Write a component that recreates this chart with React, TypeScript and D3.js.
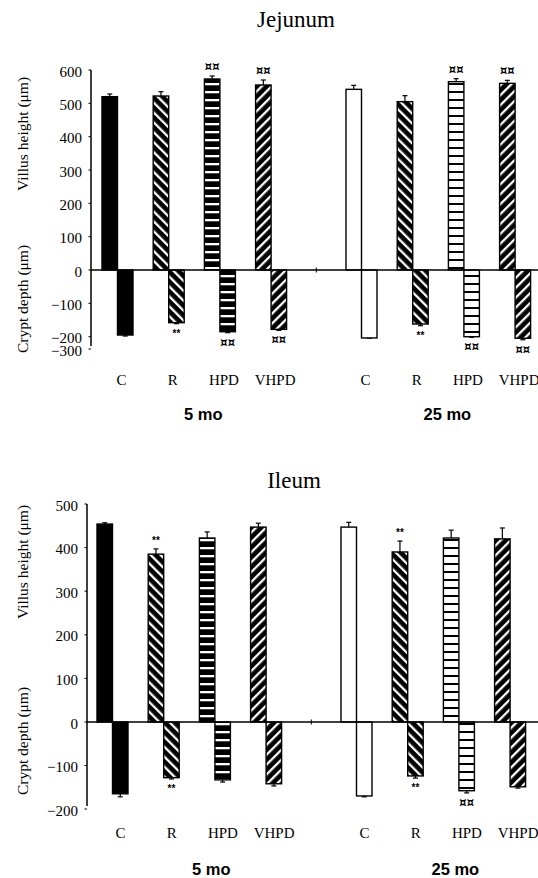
import * as d3 from "d3";

const treatments = ["C", "R", "HPD", "VHPD"];
const ages = ["5 mo", "25 mo"];
const measures = ["villus", "crypt"];

const jejTicks = [600, 500, 400, 300, 200, 100, 0, -100, -200, -300];
const ileTicks = [500, 400, 300, 200, 100, 0, -100, -200];

// Jejunum, villus height (positive) and crypt depth (negative), mean and error
const jejVillus5 = [520, 522, 573, 555];
const jejVillus5Err = [8, 13, 9, 15];
const jejVillus25 = [542, 505, 565, 560];
const jejVillus25Err = [12, 18, 9, 9];
const jejCrypt5 = [-195, -158, -185, -178];
const jejCrypt5Err = [3, 3, 3, 3];
const jejCrypt25 = [-210, -162, -200, -213];
const jejCrypt25Err = [2, 5, 5, 12];

const jejVillus5Sig = ["", "", "¤¤", "¤¤"];
const jejVillus25Sig = ["", "", "¤¤", "¤¤"];
const jejCrypt5Sig = ["", "**", "¤¤", "¤¤"];
const jejCrypt25Sig = ["", "**", "¤¤", "¤¤"];

// Ileum
const ileVillus5 = [454, 385, 422, 447];
const ileVillus5Err = [3, 12, 14, 9];
const ileVillus25 = [447, 390, 422, 420];
const ileVillus25Err = [11, 25, 18, 25];
const ileCrypt5 = [-165, -128, -133, -142];
const ileCrypt5Err = [7, 3, 5, 5];
const ileCrypt25 = [-170, -124, -158, -149];
const ileCrypt25Err = [2, 5, 5, 3];

const ileVillus5Sig = ["", "**", "", ""];
const ileVillus25Sig = ["", "**", "", ""];
const ileCrypt5Sig = ["", "**", "", ""];
const ileCrypt25Sig = ["", "**", "¤¤", ""];

const fills: Record<string, string[]> = {
  "5 mo": ["#000", "url(#diagDown)", "url(#horizDark)", "url(#diagUp)"],
  "25 mo": ["#fff", "url(#diagDown)", "url(#horizLight)", "url(#diagUp)"],
};

const serif = "'Liberation Serif', 'Times New Roman', serif";
const sans = "'Liberation Sans', Arial, sans-serif";

const buildRows = (
  v5: number[], v5e: number[], v5s: string[],
  v25: number[], v25e: number[], v25s: string[],
  c5: number[], c5e: number[], c5s: string[],
  c25: number[], c25e: number[], c25s: string[]
) => {
  const rows: any[] = [];
  treatments.forEach((t, i) => {
    rows.push({ age: "5 mo", t, i, m: "villus", v: v5[i], e: v5e[i], s: v5s[i] });
    rows.push({ age: "5 mo", t, i, m: "crypt", v: c5[i], e: c5e[i], s: c5s[i] });
    rows.push({ age: "25 mo", t, i, m: "villus", v: v25[i], e: v25e[i], s: v25s[i] });
    rows.push({ age: "25 mo", t, i, m: "crypt", v: c25[i], e: c25e[i], s: c25s[i] });
  });
  return rows;
};

const jejRows = buildRows(
  jejVillus5, jejVillus5Err, jejVillus5Sig,
  jejVillus25, jejVillus25Err, jejVillus25Sig,
  jejCrypt5, jejCrypt5Err, jejCrypt5Sig,
  jejCrypt25, jejCrypt25Err, jejCrypt25Sig
);
const ileRows = buildRows(
  ileVillus5, ileVillus5Err, ileVillus5Sig,
  ileVillus25, ileVillus25Err, ileVillus25Sig,
  ileCrypt5, ileCrypt5Err, ileCrypt5Sig,
  ileCrypt25, ileCrypt25Err, ileCrypt25Sig
);

const jejLayout = {
  title: "Jejunum", titleX: 296, titleY: 27,
  axisX: 91, yDomain: [-300, -200, 0, 600], yRange: [349, 336.7, 270, 70],
  ticks: jejTicks, xStart: 102, catY: 385, ageY: 420, catShift: 4, ageShift: 9,
  villusLabelY: 134, cryptLabelY: 299,
};
const ileLayout = {
  title: "Ileum", titleX: 294, titleY: 488,
  axisX: 87, yDomain: [-200, 0, 500], yRange: [809, 722, 504],
  ticks: ileTicks, xStart: 97, catY: 838, ageY: 875, catShift: 8, ageShift: 22,
  villusLabelY: 562, cryptLabelY: 741,
};

const groupStep = 244;
const groupWidth = 184.6;
const pairWidth = 31;
const treatStep = 51.2;

const Panel = ({ layout, rows }: { layout: any; rows: any[] }) => {
  const y = d3.scaleLinear().domain(layout.yDomain).range(layout.yRange);
  const ageX = d3
    .scaleBand()
    .domain(ages)
    .range([layout.xStart, layout.xStart + groupStep + groupWidth])
    .paddingInner(1 - groupWidth / groupStep);
  const treatX = d3
    .scaleBand()
    .domain(treatments)
    .range([0, groupWidth])
    .paddingInner(1 - pairWidth / treatStep);
  const mX = d3.scaleBand().domain(measures).range([0, pairWidth]);

  const y0 = y(0);
  const yTop = y(d3.max(layout.ticks as number[])!);
  const yBot = y(d3.min(layout.ticks as number[])!) - 3;
  const midX =
    ((ageX("5 mo") as number) + groupWidth + (ageX("25 mo") as number)) / 2;

  return (
    <g>
      <text x={layout.titleX} y={layout.titleY} textAnchor="middle"
        fontFamily={serif} fontSize={23}>{layout.title}</text>

      {/* axis titles */}
      <text transform={`translate(28,${layout.villusLabelY}) rotate(-90)`}
        textAnchor="middle" fontFamily={serif} fontSize={15.5}>Villus height (μm)</text>
      <text transform={`translate(28,${layout.cryptLabelY}) rotate(-90)`}
        textAnchor="middle" fontFamily={serif} fontSize={15.5}>Crypt depth (μm)</text>

      {/* bars */}
      {rows.map((d, k) => {
        const x = (ageX(d.age) as number) + (treatX(d.t) as number) + (mX(d.m) as number);
        const w = mX.bandwidth();
        const yv = y(d.v);
        const end = d.m === "villus" ? d.v + d.e : d.v - d.e;
        const ye = y(end);
        const cx = x + w / 2;
        const star = d.s === "**";
        return (
          <g key={k}>
            <line x1={cx} x2={cx} y1={yv} y2={ye} stroke="#000" strokeWidth={1.2} />
            <line x1={cx - 2.5} x2={cx + 2.5} y1={ye} y2={ye} stroke="#000" strokeWidth={1.2} />
            <rect x={x} y={Math.min(yv, y0)} width={w} height={Math.abs(y0 - yv)}
              fill={fills[d.age][d.i]} stroke="#000" strokeWidth={1.4} />
            {d.s && (
              <text x={cx} y={d.m === "villus" ? ye - 5 : ye + (star ? 13 : 14)}
                textAnchor="middle"
                fontFamily={star ? sans : "'DejaVu Sans', sans-serif"}
                fontWeight="bold"
                fill="#000"
                fontSize={star ? 10 : 11.5}>{d.s}</text>
            )}
          </g>
        );
      })}

      {/* zero line and empty middle slot */}
      <line x1={layout.axisX} x2={560} y1={y0} y2={y0} stroke="#000" strokeWidth={1.3} />
      <line x1={midX} x2={midX} y1={y0 - 2.5} y2={y0 + 2.5} stroke="#000" strokeWidth={1} />

      {/* y axis */}
      <line x1={layout.axisX} x2={layout.axisX} y1={yTop} y2={yBot} stroke="#000" strokeWidth={1.5} />
      {(layout.ticks as number[]).map((t) => (
        <g key={t}>
          <line x1={layout.axisX - 2.5} x2={layout.axisX} y1={y(t)} y2={y(t)} stroke="#000" strokeWidth={1} />
          <text x={layout.axisX - 9} y={y(t) + 6.5} textAnchor="end"
            fontFamily={serif} fontSize={15}>{t < 0 ? `\u2212${-t}` : t}</text>
        </g>
      ))}

      {/* category labels */}
      {ages.map((a) =>
        treatments.map((t) => (
          <text key={a + t}
            x={(ageX(a) as number) + (treatX(t) as number) + treatX.bandwidth() / 2 + layout.catShift}
            y={layout.catY} textAnchor="middle" fontFamily={serif} fontSize={15}>{t}</text>
        ))
      )}
      {ages.map((a) => (
        <text key={a} x={(ageX(a) as number) + ageX.bandwidth() / 2 + layout.ageShift}
          y={layout.ageY} textAnchor="middle" fontFamily={sans} fontWeight="bold"
          fontSize={16.5}>{a}</text>
      ))}
    </g>
  );
};

export default function App() {
  return (
    <svg width={538} height={878}
      style={{ position: "absolute", left: 0, top: 0, background: "#fff" }}>
      <defs>
        <pattern id="diagDown" width={7} height={7} patternUnits="userSpaceOnUse"
          patternTransform="rotate(-45)">
          <rect width={7} height={7} fill="#000" />
          <rect x={0} width={2.3} height={7} fill="#fff" />
        </pattern>
        <pattern id="diagUp" width={7} height={7} patternUnits="userSpaceOnUse"
          patternTransform="rotate(45)">
          <rect width={7} height={7} fill="#000" />
          <rect x={0} width={2.3} height={7} fill="#fff" />
        </pattern>
        <pattern id="horizDark" width={8} height={8} patternUnits="userSpaceOnUse">
          <rect width={8} height={8} fill="#000" />
          <rect y={3} width={8} height={2.3} fill="#fff" />
        </pattern>
        <pattern id="horizLight" width={8} height={8} patternUnits="userSpaceOnUse">
          <rect width={8} height={8} fill="#fff" />
          <rect y={3} width={8} height={2} fill="#000" />
        </pattern>
      </defs>
      <Panel layout={jejLayout} rows={jejRows} />
      <Panel layout={ileLayout} rows={ileRows} />
    </svg>
  );
}
